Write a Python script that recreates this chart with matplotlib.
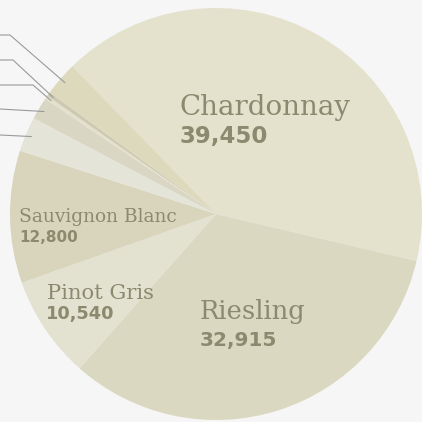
import numpy as np
import matplotlib
matplotlib.use('Agg')
import matplotlib.pyplot as plt

# wedge sizes (degrees), clockwise from Chardonnay
varieties = ['Chardonnay', 'Riesling', 'Pinot Gris', 'Sauvignon Blanc',
             'other 1', 'other 2', 'other 3', 'other 4', 'other 5']
share_deg = [147.4, 118.3, 29.0, 37.4, 9.8, 6.3, 1.0, 1.2, 9.6]
# numbers printed on the labels
counts = [39450, 32915, 10540, 12800]
colors = ['#e4e1cc', '#dbd8c1', '#e3e1d0', '#d9d5bc',
          '#e4e4d9', '#d9d7c4', '#e3e1cc', '#cdcab1', '#dcd9bd']

bg = '#f6f6f6'
txt = '#8b8a6f'

# pixel geometry of the pie in the 422px image
W = 422
cx, cy, R = 216, 214, 206

def px(x, y):
    return (x - cx) / R, (cy - y) / R

fig = plt.figure(figsize=(4.22, 4.22), dpi=100, facecolor=bg)
ax = fig.add_axes([0, 0, 1, 1])
ax.set_facecolor(bg)

wedges, _ = ax.pie(share_deg, colors=colors, startangle=134.2, counterclock=False,
                   radius=1, center=(0, 0), wedgeprops=dict(linewidth=0))

x0, y0 = px(0, 0)
x1, y1 = px(W, W)
ax.set_xlim(x0, x1)
ax.set_ylim(y1, y0)
ax.set_aspect('equal')
ax.axis('off')

# labels: (name px pos, name size, value px pos, value size)
label_pos = [
    ((180, 115), 20, (180, 143), 16.5),
    ((200, 319), 18.5, (200, 346), 14.5),
    ((47, 299), 15.2, (46, 319), 12.8),
    ((19, 222), 13.4, (19, 242), 11),
]
for i, ((nx, ny), ns, (vx, vy), vs) in enumerate(label_pos):
    ax.text(*px(nx, ny), varieties[i], family='DejaVu Serif',
            fontsize=ns, color=txt, ha='left', va='baseline')
    ax.text(*px(vx, vy), f'{counts[i]:,}', family='DejaVu Sans', fontweight='bold',
            fontsize=vs, color=txt, ha='left', va='baseline')

# leader lines to the small slices (their labels sit off the left edge)
lead_y = [135, 109, 85, 60, 35]
lead_elbow = [None, None, 33, 13, 10]
for k, w in enumerate(wedges[4:]):
    mid = np.deg2rad((w.theta1 + w.theta2) / 2)
    ex, ey = 0.97 * np.cos(mid), 0.97 * np.sin(mid)
    ly = px(0, lead_y[k])[1]
    if lead_elbow[k] is None:
        xs, ys = [x0, ex], [ly, ey]
    else:
        bx = px(lead_elbow[k], 0)[0]
        xs, ys = [x0, bx, ex], [ly, ly, ey]
    ax.plot(xs, ys, color='#9a9a9a', lw=0.8, solid_capstyle='butt')

fig.savefig('out.png', dpi=100, facecolor=bg)
